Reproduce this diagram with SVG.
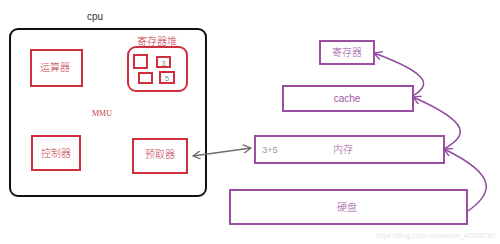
<svg xmlns="http://www.w3.org/2000/svg" width="500" height="244" viewBox="0 0 500 244">
<style>
.red{fill:none;stroke:#cf2f3c;stroke-width:2}
.pur{fill:none;stroke:#9a4fa3;stroke-width:2}
.cjk{font-family:"Noto Sans CJK SC","Noto Sans",sans-serif;font-size:10px;text-anchor:middle;font-weight:300}
.tr{fill:#c8404e}
.tp{fill:#9c58a6}
.lat{font-family:"Liberation Sans",Arial,sans-serif;text-anchor:middle}
.con{fill:none;stroke:#8e4a9c;stroke-width:1.5}
</style>
<defs>
<marker id="ap" viewBox="0 0 10 10" refX="9" refY="5" markerWidth="9" markerHeight="9" markerUnits="userSpaceOnUse" orient="auto-start-reverse">
<path d="M0,0 L9,5 L0,10" fill="none" stroke="#8e4a9c" stroke-width="1.5"/>
</marker>
<marker id="ag" viewBox="0 0 10 10" refX="9" refY="5" markerWidth="9" markerHeight="9" markerUnits="userSpaceOnUse" orient="auto-start-reverse">
<path d="M0,0 L9,5 L0,10" fill="none" stroke="#6e6e6e" stroke-width="1.5"/>
</marker>
</defs>
<rect width="500" height="244" fill="#ffffff"/>
<g id="cpu">
<text x="95" y="20" class="lat" font-size="10" fill="#333">cpu</text>
<rect x="10" y="29" width="196" height="167" rx="8" fill="none" stroke="#111" stroke-width="2"/>
<text x="102" y="116" text-anchor="middle" font-family="Liberation Serif,serif" font-size="8" fill="#c8404e">MMU</text>
</g>
<g id="alu">
<rect x="31" y="50" width="51" height="36" class="red"/>
<text x="55" y="71" class="cjk tr">运算器</text>
</g>
<g id="regheap">
<text x="157" y="45" class="cjk tr">寄存器堆</text>
<rect x="128" y="47" width="59" height="44" rx="8" class="red"/>
<rect x="134" y="55" width="13" height="13" class="red"/>
<rect x="157" y="57" width="13" height="10" class="red"/>
<text x="163.5" y="65.5" class="lat" font-size="8" fill="#888">3</text>
<rect x="139" y="73" width="13" height="10" class="red"/>
<rect x="160" y="72" width="14" height="11" class="red"/>
<text x="167" y="81" class="lat" font-size="8" fill="#888">5</text>
</g>
<g id="ctrl">
<rect x="32" y="136" width="48" height="34" class="red"/>
<text x="56" y="157" class="cjk tr">控制器</text>
</g>
<g id="prefetch">
<rect x="133" y="139" width="54" height="34" class="red"/>
<text x="160" y="158" class="cjk tr">预取器</text>
</g>
<g id="reg">
<rect x="320" y="41" width="54" height="23" class="pur"/>
<text x="347" y="56" class="cjk tp">寄存器</text>
</g>
<g id="cache">
<rect x="283" y="86" width="130" height="25" class="pur"/>
<text x="347" y="102" class="lat tp" font-size="10">cache</text>
</g>
<g id="mem">
<rect x="255" y="136" width="189" height="27" class="pur"/>
<text x="270" y="153" class="lat" font-size="9" fill="#999">3+5</text>
<text x="343" y="153" class="cjk tp">内存</text>
</g>
<g id="disk">
<rect x="230" y="190" width="237" height="34" class="pur"/>
<text x="347" y="211" class="cjk tp">硬盘</text>
</g>
<g id="connectors">
<line x1="193" y1="156" x2="251" y2="148" stroke="#6e6e6e" stroke-width="1.5" marker-start="url(#ag)" marker-end="url(#ag)"/>
<path d="M468,211 C492,194 500,176 444,149" class="con" marker-end="url(#ap)"/>
<path d="M444,149 C466,136 474,124 413,97" class="con" marker-end="url(#ap)"/>
<path d="M413,96 C428,86 436,76 374,53" class="con" marker-end="url(#ap)"/>
</g>
<text x="495" y="238" font-family="Liberation Sans,Arial,sans-serif" text-anchor="end" font-size="7" fill="#e6e6e6">https://blog.csdn.net/weixin_42556780</text>
</svg>
